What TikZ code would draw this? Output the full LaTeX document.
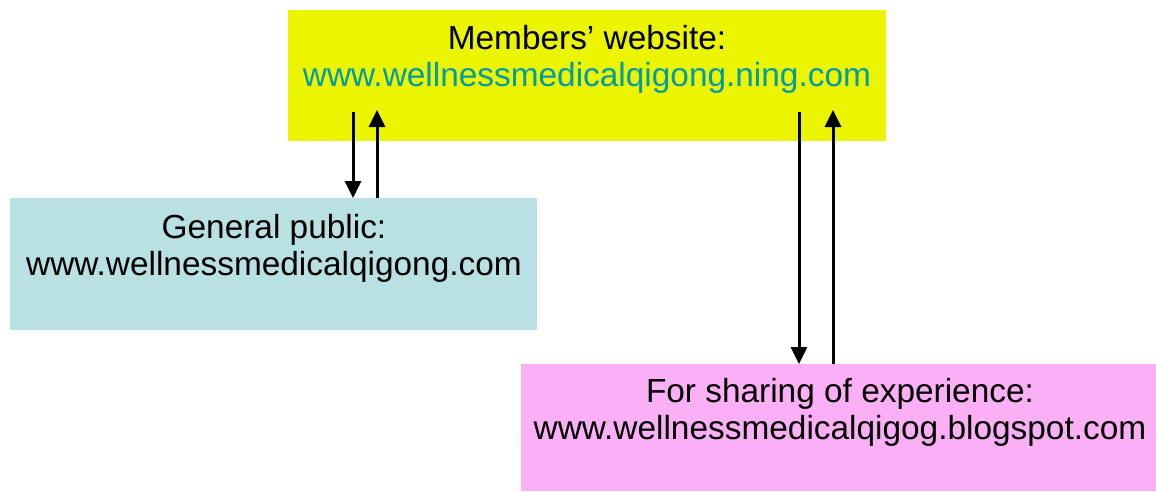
\documentclass[tikz,border=0pt]{standalone}
\usepackage{fontspec}
\setmainfont{Liberation Sans}
\usetikzlibrary{arrows.meta}
\definecolor{yel}{RGB}{236,245,0}
\definecolor{lblue}{RGB}{185,224,227}
\definecolor{lpink}{RGB}{251,176,245}
\definecolor{urlteal}{RGB}{0,155,165}
\begin{document}
\begin{tikzpicture}[x=1pt,y=-1pt,
  boxst/.style={draw=none,inner sep=0pt,outer sep=0pt,anchor=north west},
  txt/.style={inner sep=0pt,anchor=base,font=\fontsize{33.4}{37}\selectfont},
  arr/.style={line width=3pt,-{Triangle[width=16pt,length=17pt]}}]
\useasboundingbox (0,0) rectangle (1156,491);
% boxes
\node[boxst,fill=yel,minimum width=598pt,minimum height=131pt] (mem) at (288,10) {};
\node[boxst,fill=lblue,minimum width=527pt,minimum height=132pt] (pub) at (10,198) {};
\node[boxst,fill=lpink,minimum width=635pt,minimum height=127pt] (shr) at (521,364) {};
% texts
\node[txt] (memA) at (587,49) {Members’ website:};
\node[txt,text=urlteal] (memB) at (587,86) {www.wellnessmedicalqigong.ning.com};
\node[txt] (pubA) at (274,238) {General public:};
\node[txt] (pubB) at (274,275) {www.wellnessmedicalqigong.com};
\node[txt] (shrA) at (840,402) {For sharing of experience:};
\node[txt] (shrB) at (840,439) {www.wellnessmedicalqigog.blogspot.com};
% arrows
\coordinate (a1) at (353,112);
\coordinate (a2) at (377,110);
\coordinate (a3) at (799,112);
\coordinate (a4) at (833,110);
\draw[arr] (a1) -- (a1 |- pub.north);
\draw[arr] (a2 |- pub.north) -- (a2);
\draw[arr] (a3) -- (a3 |- shr.north);
\draw[arr] (a4 |- shr.north) -- (a4);
\end{tikzpicture}
\end{document}
